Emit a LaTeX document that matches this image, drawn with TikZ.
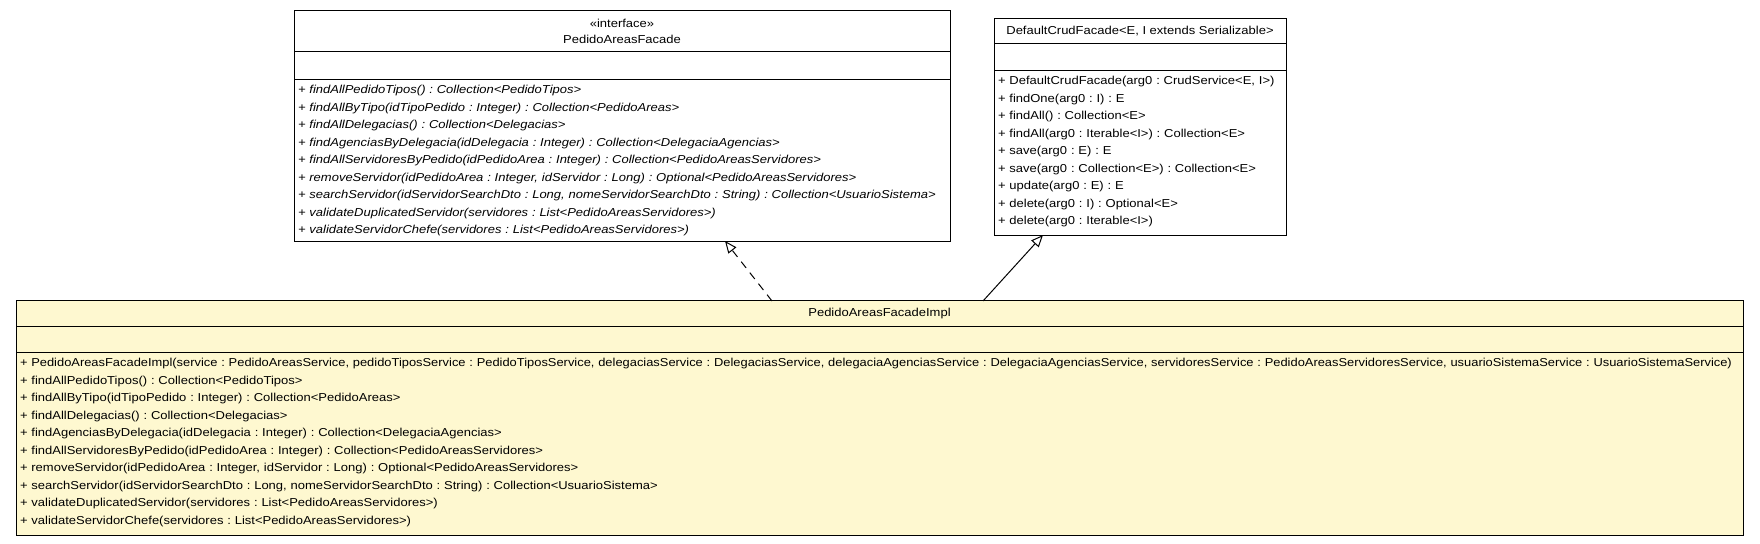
\documentclass[tikz,border=0pt]{standalone}
\usepackage{fontspec}
\setmainfont{Liberation Sans}[FakeStretch=1.13]
\usetikzlibrary{arrows.meta,positioning}
\definecolor{implfill}{RGB}{254,248,208}
\newcommand\umlfont{\fontsize{11.5bp}{17.5bp}\selectfont\frenchspacing}

\begin{document}
\begin{tikzpicture}[x=1bp,y=-1bp,node distance=0pt,font=\umlfont,
  part/.style={draw,line width=1bp,inner sep=0pt,outer sep=0pt,fill=white},
  head/.style={part,align=center},
  ops/.style={part,align=left,inner xsep=4bp,text height=14bp},
  abstract/.style={font=\umlfont\itshape},
  impl/.style={fill=implfill},
  realize/.style={-{Triangle[open,length=12bp,width=10bp]},line width=1bp,dash pattern=on 8bp off 6bp},
  extend/.style={-{Triangle[open,length=12bp,width=10bp]},line width=1bp}]
\useasboundingbox (0,0) rectangle (1760,544);

% interface
\node[head,minimum width=656bp,minimum height=41bp,anchor=north west,font=\fontsize{11.5bp}{15.6bp}\selectfont] (ifaceHead) at (294,11) {«interface»\\PedidoAreasFacade};
\node[part,minimum width=656bp,minimum height=28bp,below=of ifaceHead] (ifaceAttr) {};
\node[ops,abstract,text width=648bp,text depth=147bp,below=of ifaceAttr] (ifaceOps) {%
+ findAllPedidoTipos() : Collection<PedidoTipos>\\
+ findAllByTipo(idTipoPedido : Integer) : Collection<PedidoAreas>\\
+ findAllDelegacias() : Collection<Delegacias>\\
+ findAgenciasByDelegacia(idDelegacia : Integer) : Collection<DelegaciaAgencias>\\
+ findAllServidoresByPedido(idPedidoArea : Integer) : Collection<PedidoAreasServidores>\\
+ removeServidor(idPedidoArea : Integer, idServidor : Long) : Optional<PedidoAreasServidores>\\
+ searchServidor(idServidorSearchDto : Long, nomeServidorSearchDto : String) : Collection<UsuarioSistema>\\
+ validateDuplicatedServidor(servidores : List<PedidoAreasServidores>)\\
+ validateServidorChefe(servidores : List<PedidoAreasServidores>)};

% superclass
\node[head,minimum width=292bp,minimum height=25bp,anchor=north west] (crudHead) at (994,19) {DefaultCrudFacade<E, I extends Serializable>};
\node[part,minimum width=292bp,minimum height=27bp,below=of crudHead] (crudAttr) {};
\node[ops,text width=284bp,text depth=150bp,below=of crudAttr] (crudOps) {%
+ DefaultCrudFacade(arg0 : CrudService<E, I>)\\
+ findOne(arg0 : I) : E\\
+ findAll() : Collection<E>\\
+ findAll(arg0 : Iterable<I>) : Collection<E>\\
+ save(arg0 : E) : E\\
+ save(arg0 : Collection<E>) : Collection<E>\\
+ update(arg0 : E) : E\\
+ delete(arg0 : I) : Optional<E>\\
+ delete(arg0 : Iterable<I>)};

% implementation
\node[head,impl,minimum width=1727bp,minimum height=25bp,anchor=north west] (implHead) at (16,301) {PedidoAreasFacadeImpl};
\node[part,impl,minimum width=1727bp,minimum height=26.5bp,below=of implHead] (implAttr) {};
\node[ops,impl,text width=1719bp,text depth=168.5bp,below=of implAttr] (implOps) {%
\resizebox{1712bp}{\height}{+ PedidoAreasFacadeImpl(service : PedidoAreasService, pedidoTiposService : PedidoTiposService, delegaciasService : DelegaciasService, delegaciaAgenciasService : DelegaciaAgenciasService, servidoresService : PedidoAreasServidoresService, usuarioSistemaService : UsuarioSistemaService)}\\
+ findAllPedidoTipos() : Collection<PedidoTipos>\\
+ findAllByTipo(idTipoPedido : Integer) : Collection<PedidoAreas>\\
+ findAllDelegacias() : Collection<Delegacias>\\
+ findAgenciasByDelegacia(idDelegacia : Integer) : Collection<DelegaciaAgencias>\\
+ findAllServidoresByPedido(idPedidoArea : Integer) : Collection<PedidoAreasServidores>\\
+ removeServidor(idPedidoArea : Integer, idServidor : Long) : Optional<PedidoAreasServidores>\\
+ searchServidor(idServidorSearchDto : Long, nomeServidorSearchDto : String) : Collection<UsuarioSistema>\\
+ validateDuplicatedServidor(servidores : List<PedidoAreasServidores>)\\
+ validateServidorChefe(servidores : List<PedidoAreasServidores>)};

\path ([xshift=-107.5bp]implHead.north) edge[realize] ([xshift=103bp]ifaceOps.south)
      ([xshift=103.5bp]implHead.north) edge[extend] ([xshift=-97bp]crudOps.south);
\end{tikzpicture}
\end{document}
